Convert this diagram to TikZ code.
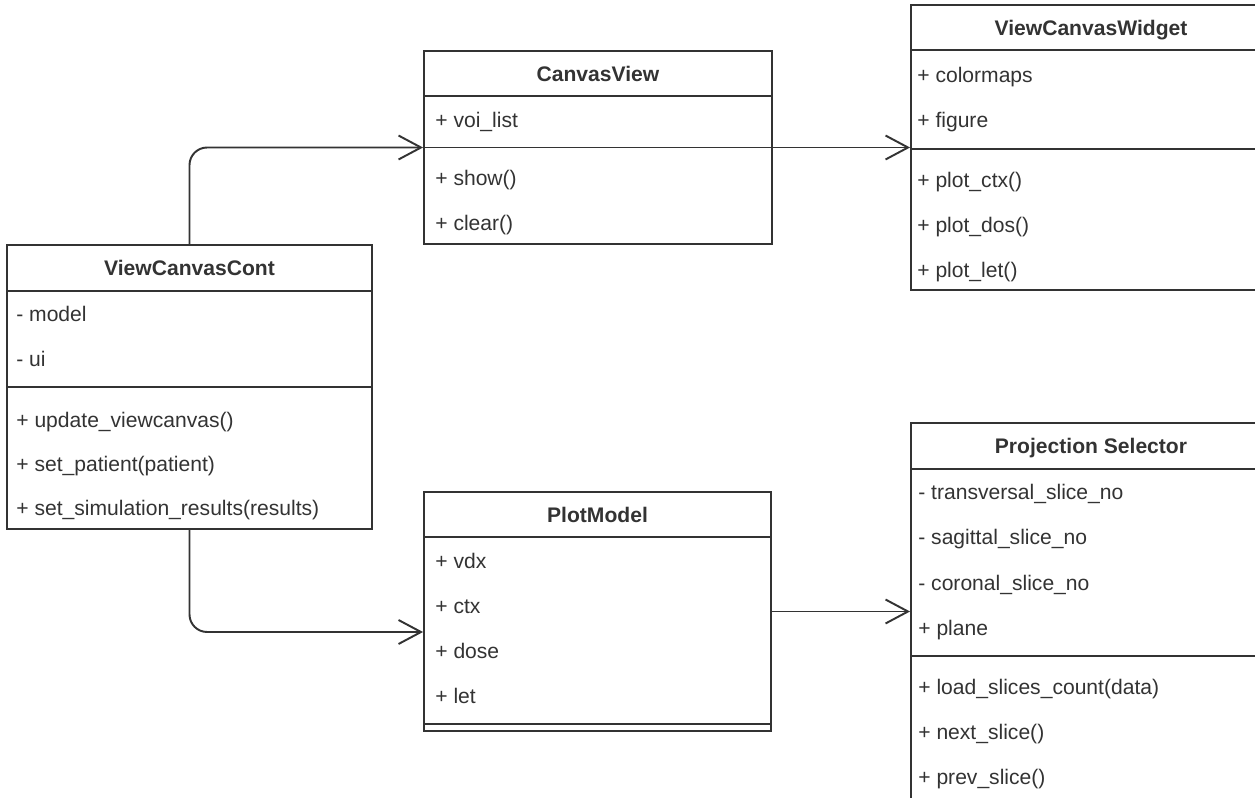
\documentclass[tikz,border=0pt]{standalone}
\usepackage{fontspec}
\setmainfont{Liberation Sans}
\usetikzlibrary{arrows.meta}
\definecolor{umlLine}{rgb}{0.2,0.2,0.2}
\definecolor{umlText}{rgb}{0.2,0.2,0.2}
\tikzset{>={Straight Barb[length=0.45cm,width=0.48cm]}}
\tikzset{classbox/.style={draw=umlLine,line width=1.1pt,inner sep=0pt}}
\tikzset{classhead/.style={draw=umlLine,line width=1.1pt,anchor=north,font=\fontsize{12}{14}\selectfont\bfseries,text=umlText,text height=8.6pt,text depth=0pt}}
\tikzset{member/.style={anchor=west,inner sep=0pt,text=umlText,text height=8.6pt,text depth=0pt}}
\tikzset{assoc/.style={->,draw=umlLine,line width=1.1pt}}

\begin{document}
\begin{tikzpicture}[x=0.02cm,y=-0.02cm,font=\fontsize{12}{14}\selectfont]
\useasboundingbox (0,0) rectangle (1255,798);
\clip (0,0) rectangle (1255,798);

% ViewCanvasCont
\node (vcc) at (189.5,387) [classbox,minimum width=7.3cm,minimum height=5.68cm] {};
\node (vccH) at (vcc.north) [classhead,minimum width=7.3cm,minimum height=0.92cm] {ViewCanvasCont};
\draw [umlLine,line width=1.1pt] (vcc.west) -- (vcc.east);
\node (vccA1) at (16,314) [member] {- model};
\node (vccA2) at (16,359) [member] {- ui};
\node (vccM1) at (16,420) [member] {+ update\_viewcanvas()};
\node (vccM2) at (16,464) [member] {+ set\_patient(patient)};
\node (vccM3) at (16,508) [member] {+ set\_simulation\_results(results)};

% CanvasView
\node (cv) at (598,147.5) [classbox,minimum width=6.96cm,minimum height=3.86cm] {};
\node (cvH) at (cv.north) [classhead,minimum width=6.96cm,minimum height=0.9cm] {CanvasView};
\draw [umlLine,line width=1.1pt] (cv.west) -- (cv.east);
\node (cvA1) at (435,120) [member] {+ voi\_list};
\node (cvM1) at (435,178) [member] {+ show()};
\node (cvM2) at (435,223) [member] {+ clear()};

% ViewCanvasWidget
\node (vcw) at (1091,147.5) [classbox,minimum width=7.2cm,minimum height=5.7cm] {};
\node (vcwH) at (vcw.north) [classhead,minimum width=7.2cm,minimum height=0.9cm] {ViewCanvasWidget};
\draw [umlLine,line width=1.1pt] (911,149) -- (1271,149);
\node (vcwA1) at (917,75) [member] {+ colormaps};
\node (vcwA2) at (917,120) [member] {+ figure};
\node (vcwM1) at (917,180) [member] {+ plot\_ctx()};
\node (vcwM2) at (917,225) [member] {+ plot\_dos()};
\node (vcwM3) at (917,270) [member] {+ plot\_let()};

% PlotModel
\node (pm) at (597.5,611.5) [classbox,minimum width=6.94cm,minimum height=4.78cm] {};
\node (pmH) at (pm.north) [classhead,minimum width=6.94cm,minimum height=0.9cm] {PlotModel};
\draw [umlLine,line width=1.1pt] (424,724) -- (771,724);
\node (pmA1) at (435,561) [member] {+ vdx};
\node (pmA2) at (435,606) [member] {+ ctx};
\node (pmA3) at (435,651) [member] {+ dose};
\node (pmA4) at (435,696) [member] {+ let};

% ProjectionSelector
\node (ps) at (1091,611) [classbox,minimum width=7.2cm,minimum height=7.52cm] {};
\node (psH) at (ps.north) [classhead,minimum width=7.2cm,minimum height=0.92cm] {Projection Selector};
\draw [umlLine,line width=1.1pt] (911,656) -- (1271,656);
\node (psA1) at (918,492) [member] {- transversal\_slice\_no};
\node (psA2) at (918,537) [member] {- sagittal\_slice\_no};
\node (psA3) at (918,583) [member] {- coronal\_slice\_no};
\node (psA4) at (918,628) [member] {+ plane};
\node (psM1) at (918,687) [member] {+ load\_slices\_count(data)};
\node (psM2) at (918,732) [member] {+ next\_slice()};
\node (psM3) at (918,777) [member] {+ prev\_slice()};

\draw [assoc,rounded corners=10pt] (vcc.north) |- (cv.west);
\draw [assoc,rounded corners=10pt] (vcc.south) |- ([yshift=-0.41cm]pm.west);
\draw [assoc] (cv.east) -- (cv.east -| vcw.west);
\draw [assoc] (pm.east) -- (pm.east -| ps.west);

\end{tikzpicture}
\end{document}
